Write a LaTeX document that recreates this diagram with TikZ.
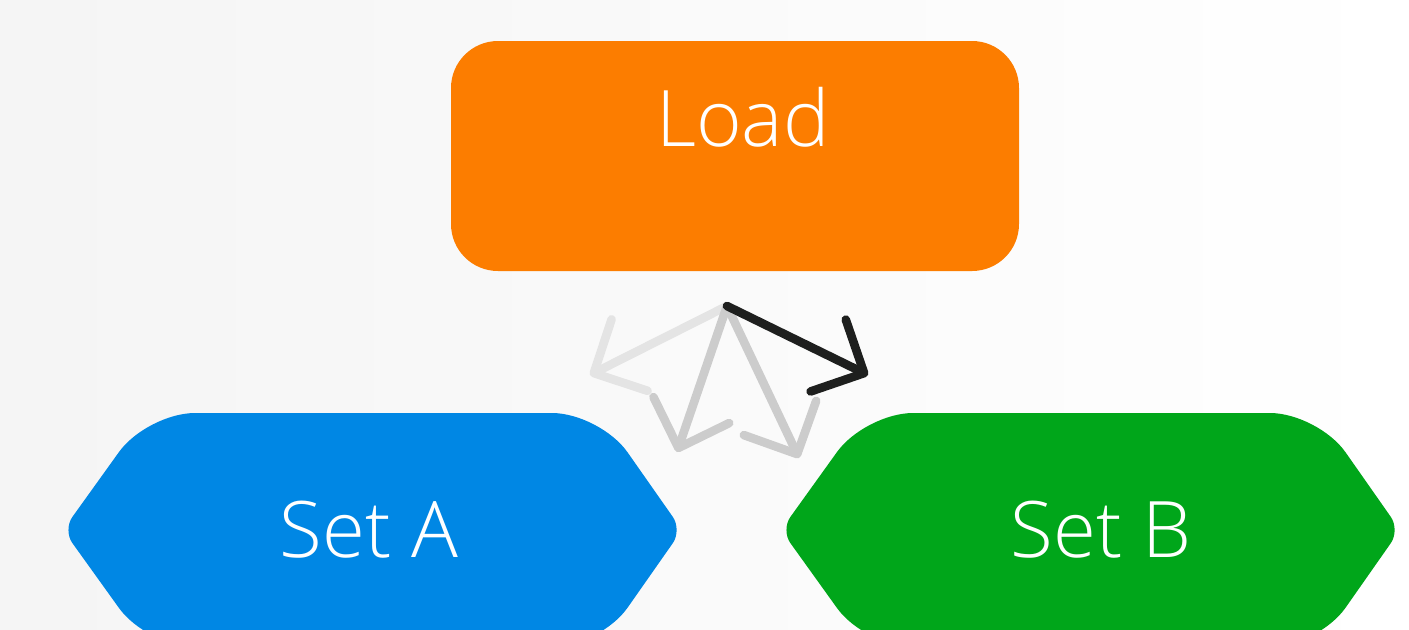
\documentclass[tikz,border=0pt]{standalone}
\usepackage{fontspec}
\IfFontExistsTF{Open Sans Light}{\setmainfont{Open Sans Light}}{\setmainfont{Open Sans}}
\usetikzlibrary{arrows.meta}
\definecolor{loadorange}{HTML}{FC7D00}
\definecolor{setblue}{HTML}{0087E4}
\definecolor{setgreen}{HTML}{00A61A}
\definecolor{arrlight}{HTML}{E4E4E4}
\definecolor{arrgray}{HTML}{CCCCCC}
\definecolor{arrdark}{HTML}{1E1F1E}
\tikzset{
  loadbox/.style={fill=loadorange, rounded corners=23.5pt, minimum width=284pt, minimum height=115pt,
    text=white, font=\fontsize{39pt}{45pt}\selectfont, text height=29pt, text depth=39pt, inner sep=0pt},
  settext/.style={text=white, font=\fontsize{39pt}{45pt}\selectfont, anchor=base, inner sep=0pt},
  flow/.style={line width=4.3pt, line cap=round, line join=round,
    -{Straight Barb[length=20pt, width=40pt, round]}},
}
\begin{document}
\begin{tikzpicture}[x=0.5pt, y=-0.5pt]
\useasboundingbox (0,0) rectangle (1409,629);
\clip (0,0) rectangle (1409,629);
\fill[left color=black!4, right color=white, shading angle=90] (0,0) rectangle (1409,629);
% Load
\node[loadbox] (load) at (735,156) {\hspace*{8pt}Load};
% Set A hexagon
\fill[setblue] (360,413) [rounded corners=24pt] -- (600,413) [rounded corners=8pt] -- (682,530) [rounded corners=24pt] -- (600,647) -- (147,647) [rounded corners=8pt] -- (63,530) [rounded corners=24pt] -- (147,413) [sharp corners] -- cycle;
\node[settext] (setA) at (369,557) {Set A};
% Set B hexagon
\fill[setgreen] (1090,413) [rounded corners=24pt] -- (1318,413) [rounded corners=8pt] -- (1400,530) [rounded corners=24pt] -- (1318,647) -- (865,647) [rounded corners=8pt] -- (781,530) [rounded corners=24pt] -- (865,413) [sharp corners] -- cycle;
\node[settext] (setB) at (1101,557) {Set B};
% arrows
\coordinate (o) at (727,306);
\coordinate (tl) at (590,375);
\coordinate (tbl) at (677,452);
\coordinate (tbr) at (799,458);
\coordinate (tr) at (868,375);
\draw[flow, arrlight] (o) -- (tl);
\draw[flow, arrgray] (o) -- (tbl);
\draw[flow, arrgray] (o) -- (tbr);
\draw[flow, arrdark] (o) -- (tr);
\end{tikzpicture}
\end{document}
